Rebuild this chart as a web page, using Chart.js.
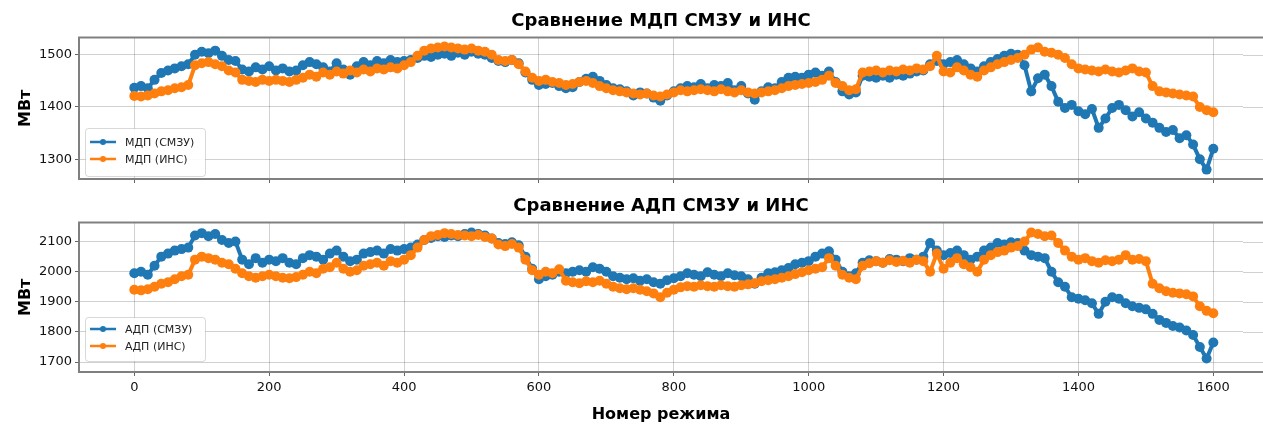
<!DOCTYPE html>
<html>
<head>
<meta charset="utf-8">
<script src="https://cdn.jsdelivr.net/npm/chart.js@4.4.1/dist/chart.umd.min.js"></script>
<style>
  body { margin: 0; background: #fff; overflow: hidden; }
  .box { position: absolute; left: 0; width: 1263px; }
</style>
</head>
<body>
<div class="box" style="top:0;height:190px"><canvas id="mdpChart"></canvas></div>
<div class="box" style="top:190px;height:234px"><canvas id="adpChart"></canvas></div>
<script>
// Номер режима (каждый 10-й режим)
const modes = [
  0, 10, 20, 30, 40, 50, 60, 70, 80, 90, 100, 110, 120, 130, 140, 150, 160, 170, 180, 190,
  200, 210, 220, 230, 240, 250, 260, 270, 280, 290, 300, 310, 320, 330, 340, 350, 360, 370, 380, 390,
  400, 410, 420, 430, 440, 450, 460, 470, 480, 490, 500, 510, 520, 530, 540, 550, 560, 570, 580, 590,
  600, 610, 620, 630, 640, 650, 660, 670, 680, 690, 700, 710, 720, 730, 740, 750, 760, 770, 780, 790,
  800, 810, 820, 830, 840, 850, 860, 870, 880, 890, 900, 910, 920, 930, 940, 950, 960, 970, 980, 990,
  1000, 1010, 1020, 1030, 1040, 1050, 1060, 1070, 1080, 1090, 1100, 1110, 1120, 1130, 1140, 1150, 1160, 1170, 1180, 1190,
  1200, 1210, 1220, 1230, 1240, 1250, 1260, 1270, 1280, 1290, 1300, 1310, 1320, 1330, 1340, 1350, 1360, 1370, 1380, 1390,
  1400, 1410, 1420, 1430, 1440, 1450, 1460, 1470, 1480, 1490, 1500, 1510, 1520, 1530, 1540, 1550, 1560, 1570, 1580, 1590,
  1600
];

// МДП (СМЗУ)
const mdpSmzu = [
  1437, 1440, 1436, 1452, 1465, 1470, 1474, 1478, 1482, 1500, 1506, 1503, 1508, 1498, 1490, 1488, 1472, 1468, 1476, 1472,
  1478, 1470, 1474, 1468, 1470, 1480, 1486, 1482, 1476, 1468, 1484, 1472, 1462, 1478, 1486, 1480, 1488, 1484, 1490, 1486,
  1488, 1490, 1494, 1498, 1496, 1500, 1502, 1498, 1504, 1500, 1506, 1502, 1500, 1494, 1488, 1486, 1490, 1484, 1466, 1452,
  1442, 1444, 1446, 1440, 1436, 1438, 1448, 1454, 1458, 1450, 1442, 1436, 1434, 1430, 1422, 1428, 1426, 1418, 1412, 1422,
  1430, 1436, 1440, 1438, 1444, 1436, 1442, 1440, 1446, 1432, 1440, 1426, 1414, 1430, 1438, 1436, 1448, 1456, 1458, 1456,
  1462, 1466, 1460, 1468, 1448, 1430, 1424, 1428, 1460, 1458, 1456, 1460, 1456, 1462, 1460, 1464, 1468, 1470, 1482, 1488,
  1482, 1486, 1490, 1482, 1474, 1468, 1478, 1486, 1492, 1498, 1502, 1500, 1480, 1430, 1455, 1462, 1440, 1410, 1398, 1404,
  1392, 1386, 1396, 1360, 1378, 1398, 1404, 1394, 1382, 1390, 1378, 1370, 1360, 1352, 1356, 1340, 1346, 1328, 1300, 1280,
  1320
];

// МДП (ИНС)
const mdpIns = [
  1421, 1420, 1422, 1426, 1430, 1432, 1436, 1438, 1442, 1480, 1484, 1486, 1482, 1478, 1470, 1466, 1452, 1450, 1448, 1452,
  1450, 1452, 1450, 1448, 1452, 1456, 1462, 1458, 1466, 1462, 1468, 1464, 1470, 1466, 1472, 1468, 1474, 1472, 1476, 1474,
  1480, 1486, 1498, 1508, 1512, 1514, 1516, 1514, 1512, 1510, 1512, 1508, 1506, 1500, 1490, 1488, 1490, 1482, 1468, 1456,
  1450, 1452, 1448, 1446, 1442, 1444, 1448, 1450, 1446, 1440, 1436, 1432, 1430, 1428, 1426, 1424, 1426, 1422, 1420, 1424,
  1428, 1432, 1430, 1432, 1434, 1432, 1430, 1434, 1430, 1428, 1432, 1428, 1426, 1428, 1430, 1432, 1436, 1440, 1442, 1444,
  1446, 1448, 1452, 1460, 1446, 1440, 1432, 1434, 1466, 1468, 1470, 1466, 1470, 1468, 1472, 1470, 1474, 1472, 1478, 1498,
  1468, 1466, 1476, 1470, 1462, 1458, 1470, 1476, 1482, 1486, 1490, 1494, 1500, 1510, 1514, 1506, 1504, 1500, 1494, 1482,
  1474, 1472, 1470, 1468, 1472, 1468, 1466, 1470, 1474, 1468, 1466, 1440, 1430, 1428, 1426, 1424, 1422, 1420, 1400, 1394,
  1390
];

// АДП (СМЗУ)
const adpSmzu = [
  1995, 2000, 1990, 2020, 2050, 2060, 2070, 2075, 2080, 2120, 2128, 2118, 2125, 2105, 2095, 2100, 2040, 2025, 2045, 2030,
  2040, 2035, 2045, 2030, 2025, 2045, 2055, 2050, 2040, 2060, 2070, 2050, 2035, 2040, 2060, 2065, 2070, 2060, 2075, 2070,
  2075, 2080, 2090, 2105, 2112, 2118, 2115, 2120, 2118, 2125, 2130, 2125, 2120, 2110, 2095, 2092, 2098, 2088, 2050, 2010,
  1975, 1985, 1990, 2000, 1995, 2000, 2005, 2000, 2015, 2010, 2000, 1985, 1980, 1975, 1978, 1970, 1975, 1965, 1960, 1972,
  1978, 1985, 1995, 1990, 1985, 1998, 1990, 1985, 1995, 1988, 1985, 1975, 1960, 1980, 1995, 1998, 2005, 2012, 2025, 2030,
  2035, 2050, 2060, 2068, 2040, 2000, 1985, 1995, 2030, 2038, 2035, 2030, 2042, 2040, 2035, 2045, 2040, 2050, 2095, 2070,
  2055, 2062, 2070, 2055, 2040, 2050, 2070, 2080, 2095, 2090, 2098, 2095, 2070, 2055, 2050, 2045, 2000, 1965, 1950, 1915,
  1910, 1905, 1895, 1860, 1900, 1915, 1910, 1895, 1885, 1880, 1875, 1860, 1840, 1830, 1820, 1815, 1805, 1790, 1750, 1712,
  1765
];

// АДП (ИНС)
const adpIns = [
  1940, 1938, 1942, 1950, 1960, 1965, 1975, 1985, 1990, 2040, 2050, 2045, 2040, 2030, 2025, 2010, 1995, 1985, 1980, 1985,
  1990, 1985, 1980, 1978, 1982, 1990, 2000, 1995, 2010, 2015, 2030, 2010, 2000, 2005, 2020, 2025, 2030, 2020, 2035, 2030,
  2040, 2055, 2080, 2105, 2118, 2122, 2128, 2125, 2122, 2120, 2118, 2122, 2115, 2110, 2090, 2085, 2092, 2080, 2040, 2005,
  1990, 2000, 1995, 2008, 1970, 1965, 1962, 1968, 1965, 1970, 1960, 1950, 1945, 1942, 1945, 1940, 1935, 1928, 1915, 1930,
  1940, 1948, 1952, 1950, 1955, 1952, 1950, 1955, 1952, 1950, 1955, 1958, 1962, 1968, 1972, 1975, 1980, 1985, 1992, 1998,
  2005, 2010, 2015, 2045, 2020, 1990, 1980, 1975, 2020, 2028, 2035, 2030, 2038, 2032, 2036, 2030, 2040, 2035, 2000, 2060,
  2010, 2030, 2045, 2025, 2015, 2000, 2040, 2055, 2065, 2070, 2080, 2085, 2100, 2130, 2125, 2118, 2120, 2095, 2070, 2050,
  2040, 2045, 2035, 2030, 2038, 2035, 2040, 2055, 2040, 2042, 2035, 1960, 1945, 1935, 1930, 1928, 1925, 1918, 1885, 1870,
  1862
];

const xTicks = [0, 200, 400, 600, 800, 1000, 1200, 1400, 1600];
const mdpTicks = [1300, 1400, 1500];
const adpTicks = [1700, 1800, 1900, 2000, 2100];

const BLUE = '#1f77b4';
const ORANGE = '#ff7f0e';
const FONT = "'DejaVu Sans', Verdana, sans-serif";

function series(label, values, color, order) {
  return {
    label: label,
    data: modes.map((m, i) => ({ x: m, y: values[i] })),
    borderColor: color,
    backgroundColor: color,
    borderWidth: 4,
    pointRadius: 5,
    pointBorderWidth: 0,
    pointBackgroundColor: color,
    tension: 0,
    order: order
  };
}

// рамка осей (как у matplotlib, правый край обрезан)
const framePlugin = {
  id: 'frame',
  beforeDatasetsDraw(chart) {
    const { ctx, chartArea: a } = chart;
    const y = chart.scales.y;
    ctx.save();
    ctx.strokeStyle = 'rgba(0,0,0,0.18)';
    ctx.lineWidth = 1;
    y.ticks.forEach(t => {
      const py = Math.round(y.getPixelForValue(t.value)) + 0.5;
      ctx.beginPath(); ctx.moveTo(a.right, py); ctx.lineTo(chart.width, py); ctx.stroke();
    });
    ctx.strokeStyle = '#808080';
    ctx.lineWidth = 2;
    ctx.beginPath();
    ctx.moveTo(chart.width, a.top); ctx.lineTo(a.left, a.top); ctx.lineTo(a.left, a.bottom); ctx.lineTo(chart.width, a.bottom);
    ctx.stroke();
    ctx.restore();
  }
};

// легенда в левом нижнем углу области графика
const boxLegend = {
  id: 'boxLegend',
  afterDatasetsDraw(chart, args, opts) {
    const { ctx, chartArea: a } = chart;
    const h = opts.height, w = 120;
    const left = a.left + 6, top = a.bottom - opts.margin - h;
    ctx.save();
    ctx.fillStyle = 'rgba(255,255,255,0.9)';
    ctx.strokeStyle = 'rgba(0,0,0,0.15)';
    ctx.lineWidth = 1;
    ctx.beginPath();
    ctx.roundRect(left + 0.5, top + 0.5, w, h, 3);
    ctx.fill(); ctx.stroke();
    ctx.font = '11px ' + FONT;
    ctx.textBaseline = 'middle';
    chart.data.datasets.forEach((ds, i) => {
      const yy = top + opts.first + i * opts.step;
      ctx.strokeStyle = ds.borderColor;
      ctx.lineWidth = 2.5;
      ctx.beginPath(); ctx.moveTo(left + 5, yy); ctx.lineTo(left + 31, yy); ctx.stroke();
      ctx.fillStyle = ds.borderColor;
      ctx.beginPath(); ctx.arc(left + 18, yy, 3, 0, Math.PI * 2); ctx.fill();
      ctx.fillStyle = '#222';
      ctx.fillText(ds.label, left + 40, yy + 1);
    });
    ctx.restore();
  }
};

function makeChart(id, cfg) {
  return new Chart(document.getElementById(id), {
    type: 'line',
    data: {
      datasets: [
        series(cfg.labels[0], cfg.smzu, BLUE, 1),
        series(cfg.labels[1], cfg.ins, ORANGE, 0)
      ]
    },
    options: {
      responsive: true,
      maintainAspectRatio: false,
      animation: false,
      layout: { padding: { left: 0, right: 20, top: 0, bottom: 0 } },
      plugins: {
        legend: { display: false },
        tooltip: { enabled: false },
        title: {
          display: true,
          text: cfg.title,
          fullSize: false,
          color: '#000',
          font: { family: FONT, size: 18, weight: 'bold' },
          padding: cfg.titlePad
        },
        boxLegend: cfg.legend
      },
      scales: {
        x: {
          type: 'linear',
          min: -82,
          max: 1644,
          afterBuildTicks: s => { s.ticks = xTicks.map(v => ({ value: v })); },
          afterFit: s => { s.height = cfg.xHeight; },
          border: { display: false },
          grid: { color: 'rgba(0,0,0,0.18)', lineWidth: 1, tickColor: '#666', tickLength: 4 },
          ticks: {
            display: cfg.xLabels, autoSkip: false, maxRotation: 0, padding: 4,
            color: '#111', font: { family: FONT, size: 13 },
            callback: v => String(v)
          },
          title: {
            display: cfg.xLabels,
            text: 'Номер режима',
            color: '#000',
            font: { family: FONT, size: 16, weight: 'bold' },
            padding: { top: 0, bottom: 0 }
          }
        },
        y: {
          min: cfg.yMin,
          max: cfg.yMax,
          afterBuildTicks: s => { s.ticks = cfg.yTicks.map(v => ({ value: v })); },
          afterFit: s => { s.width = 79; },
          border: { display: false },
          grid: { color: 'rgba(0,0,0,0.18)', lineWidth: 1, tickColor: '#666', tickLength: 4 },
          ticks: {
            padding: 3, color: '#111', font: { family: FONT, size: 13 },
            callback: v => String(v)
          },
          title: {
            display: true,
            text: 'МВт',
            color: '#000',
            font: { family: FONT, size: 16, weight: 'bold' },
            padding: { top: 16, bottom: 0 }
          }
        }
      }
    },
    plugins: [framePlugin, boxLegend]
  });
}

makeChart('mdpChart', {
  title: 'Сравнение МДП СМЗУ и ИНС',
  labels: ['МДП (СМЗУ)', 'МДП (ИНС)'],
  smzu: mdpSmzu,
  ins: mdpIns,
  yMin: 1262, yMax: 1533, yTicks: mdpTicks,
  titlePad: { top: 11, bottom: 5 },
  xHeight: 11, xLabels: false,
  legend: { height: 48, margin: 3, first: 14, step: 17 }
});

makeChart('adpChart', {
  title: 'Сравнение АДП СМЗУ и ИНС',
  labels: ['АДП (СМЗУ)', 'АДП (ИНС)'],
  smzu: adpSmzu,
  ins: adpIns,
  yMin: 1667, yMax: 2163, yTicks: adpTicks,
  titlePad: { top: 6, bottom: 5 },
  xHeight: 52, xLabels: true,
  legend: { height: 44, margin: 11, first: 12, step: 17 }
});
</script>
</body>
</html>
